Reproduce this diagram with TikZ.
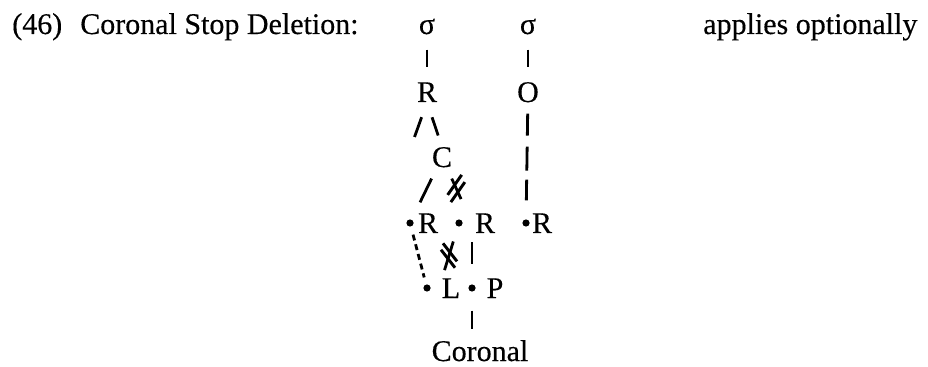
\documentclass[tikz,border=0pt]{standalone}
\usepackage{fontspec}
\setmainfont{Liberation Serif}[FakeBold=0.35]
\usetikzlibrary{calc}

\begin{document}
\begin{tikzpicture}[x=0.75pt,y=-0.75pt,
    lbl/.style={inner sep=0pt,anchor=base,font=\fontsize{22.5}{27}\selectfont},
    segdot/.style={circle,fill=black,inner sep=0pt,minimum size=5.4pt},
    assoc/.style={line width=2.1pt},
    delink/.style={line width=2.2pt}]
  \useasboundingbox (0,0) rectangle (928,367);

  % rule name and remark
  \node[lbl,anchor=base west] (title) at (12,34) {(46)\hspace{0.6em}Coronal Stop Deletion:};
  \node[lbl,anchor=base west] (note) at (703,34) {applies optionally};

  % syllables
  \node[lbl] (sigA) at (427,34) {σ};
  \node[lbl] (sigB) at (528,34) {σ};
  \node[lbl] (rA) at (427,102) {R};
  \node[lbl] (oB) at (528,102) {O};
  \node[lbl] (cA) at (442,167) {C};
  \coordinate (nA) at (414.5,137);

  % root row
  \node[segdot] (r1dot) at (410,223) {};
  \node[lbl] (r1) at (428,233) {R};
  \node[segdot] (r2dot) at (459,223) {};
  \node[lbl] (r2) at (485,233) {R};
  \node[segdot] (r3dot) at (526,223) {};
  \node[lbl] (r3) at (542,233) {R};
  \coordinate (segB) at ($(r2dot)!0.5!(r2)$);

  % place row
  \node[segdot] (ldot) at (427,288) {};
  \node[lbl] (lnode) at (451,298) {L};
  \node[segdot] (pdot) at (472,288) {};
  \node[lbl] (pnode) at (495,298) {P};
  \coordinate (segL) at ($(ldot)!0.5!(lnode)$);
  \node[lbl] (coronal) at (480,361) {Coronal};

  % association lines
  \draw[assoc,shorten <=11.25pt,shorten >=11pt] (sigA) -- (rA);
  \draw[assoc,shorten <=11.25pt,shorten >=11pt] (sigB) -- (oB);
  \draw[assoc,shorten <=11.9pt] (rA.south) -- (nA);
  \draw[assoc,shorten <=11.9pt,shorten >=9pt] (rA.south) -- (cA.north);
  \draw[assoc,shorten <=9.2pt,shorten >=14.3pt] (cA) -- (r1dot);
  \draw[assoc,shorten <=9.1pt,shorten >=19.8pt] (cA) -- (segB);
  \draw[assoc,shorten <=11.6pt,shorten >=14.1pt] (r2dot) -- (segL);
  \draw[assoc,shorten <=14.4pt,shorten >=14.8pt] (segB) -- (pdot);
  \draw[assoc,shorten <=14pt,shorten >=8.3pt] (pdot) -- (pdot |- coronal.north);
  \draw[assoc,shorten <=8.25pt,shorten >=14pt,
        dash pattern=on 16.5pt off 8.25pt on 18pt off 6.75pt on 16.5pt off 10pt] (oB) -- (r3dot);
  \draw[assoc,shorten <=6.1pt,shorten >=5.3pt,dash pattern=on 4.5pt off 3pt] (r1dot) -- (ldot);

  % delinking marks
  \coordinate (m1) at ($(cA)!0.475!(segB)$);
  \draw[delink] ($(m1)+(-8.6,6.4)$) -- ($(m1)+(5.4,-13.6)$);
  \draw[delink] ($(m1)+(-5.4,13.6)$) -- ($(m1)+(8.6,-6.4)$);
  \coordinate (m2) at ($(r2dot)!0.5!(segL)$);
  \draw[delink] ($(m2)+(-6,-12.2)$) -- ($(m2)+(8,5.8)$);
  \draw[delink] ($(m2)+(-8,-5.8)$) -- ($(m2)+(6,12.2)$);
\end{tikzpicture}
\end{document}
